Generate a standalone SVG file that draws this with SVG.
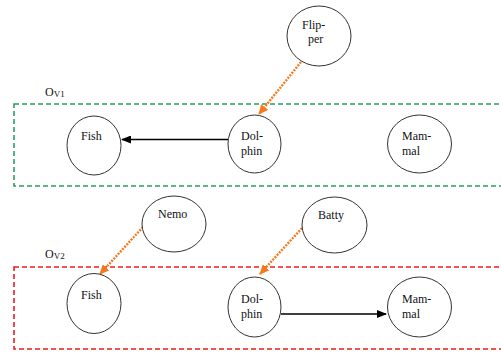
<svg xmlns="http://www.w3.org/2000/svg" width="501" height="354" viewBox="0 0 501 354" font-family="'Liberation Serif', 'Times New Roman', 'DejaVu Serif', serif">
<style>
.node ellipse{fill:#fff;stroke:#333;stroke-width:1}
text{font-family:'Liberation Serif','Times New Roman','DejaVu Serif',serif;font-size:12px;fill:#111}
.sub{font-size:9px}
.inst{stroke:#f57a1e;stroke-width:2.4;stroke-dasharray:2 1.2;fill:none}
.rel{stroke:#000;stroke-width:1.5;fill:none}
</style>
<defs>
<marker id="ah" markerWidth="10" markerHeight="8" refX="9" refY="4" orient="auto" markerUnits="userSpaceOnUse">
<path d="M0,0 L10,4 L0,8 Z" fill="#000"/>
</marker>
<marker id="oh" markerWidth="10" markerHeight="9" refX="9" refY="4.5" orient="auto" markerUnits="userSpaceOnUse">
<path d="M0,0 L10,4.5 L0,9 Z" fill="#f57a1e"/>
</marker>
</defs>
<rect x="14" y="104" width="500" height="82" fill="none" stroke="#2e9e5e" stroke-width="1.6" stroke-dasharray="5 3"/>
<text x="45" y="96">O<tspan class="sub" dy="1">V1</tspan></text>
<rect x="14" y="267" width="500" height="82" fill="none" stroke="#ee1c1c" stroke-width="1.6" stroke-dasharray="5 3"/>
<text x="45" y="258">O<tspan class="sub" dy="1">V2</tspan></text>
<g id="connectors">
<line class="rel" x1="228" y1="139.5" x2="122" y2="139.5" marker-end="url(#ah)"/>
<line class="rel" x1="281" y1="314" x2="386" y2="314" marker-end="url(#ah)"/>
<line class="inst" x1="301" y1="62" x2="259" y2="114" marker-end="url(#oh)"/>
<line class="inst" x1="143" y1="227" x2="100" y2="274" marker-end="url(#oh)"/>
<line class="inst" x1="302" y1="228" x2="260" y2="274" marker-end="url(#oh)"/>
</g>
<g id="flipper" class="node"><ellipse cx="319" cy="36" rx="32" ry="30"/><text x="302" y="29">Flip-</text><text x="308" y="43">per</text></g>
<g id="fish1" class="node"><ellipse cx="94" cy="145.5" rx="27" ry="29.5"/><text x="81" y="140">Fish</text></g>
<g id="dolphin1" class="node"><ellipse cx="254.5" cy="144" rx="26.5" ry="29"/><text x="241" y="140">Dol-</text><text x="241" y="155">phin</text></g>
<g id="mammal1" class="node"><ellipse cx="419.5" cy="144" rx="32" ry="29"/><text x="402" y="140">Mam-</text><text x="402" y="155">mal</text></g>
<g id="nemo" class="node"><ellipse cx="174" cy="224" rx="32" ry="28"/><text x="158" y="218">Nemo</text></g>
<g id="batty" class="node"><ellipse cx="334.5" cy="225" rx="32.5" ry="28"/><text x="318" y="219">Batty</text></g>
<g id="fish2" class="node"><ellipse cx="94" cy="303.5" rx="27" ry="30"/><text x="81" y="299">Fish</text></g>
<g id="dolphin2" class="node"><ellipse cx="254.5" cy="307" rx="26.5" ry="30"/><text x="241" y="303">Dol-</text><text x="241" y="318">phin</text></g>
<g id="mammal2" class="node"><ellipse cx="419.5" cy="307" rx="32" ry="30"/><text x="402" y="303">Mam-</text><text x="402" y="318">mal</text></g>
</svg>
